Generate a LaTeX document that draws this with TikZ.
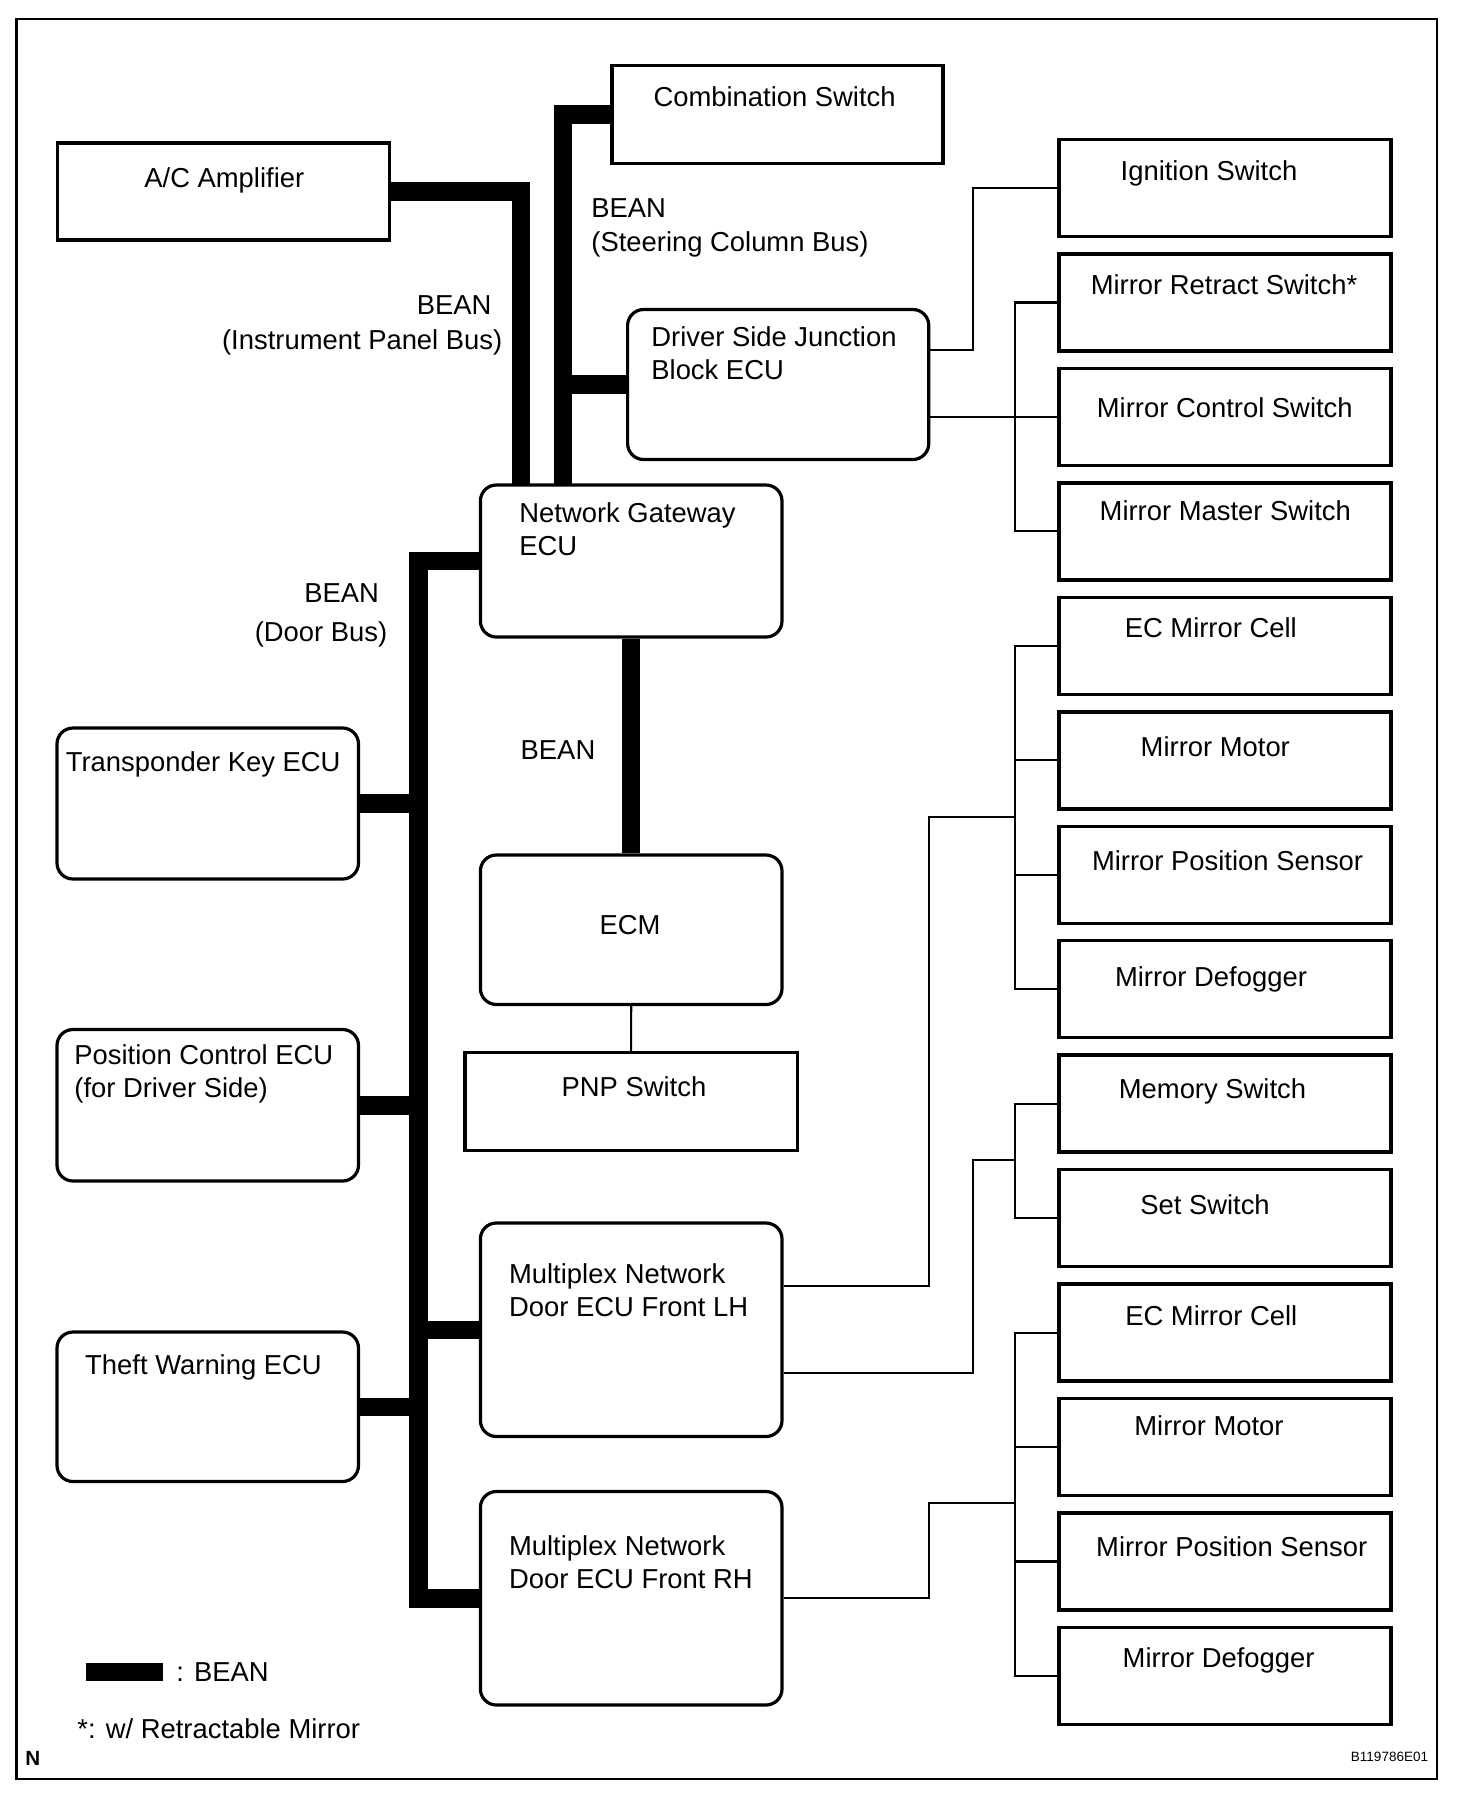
\documentclass[tikz,border=0pt]{standalone}
\usepackage{fontspec}
\setmainfont{Liberation Sans}
\newcommand{\lblfont}{\fontsize{13.7}{16.5}\selectfont}
\tikzset{
  ecubox/.style={draw, rounded corners=8pt, line width=1.6pt, minimum width=150.8pt, minimum height=75pt, inner sep=0pt},
  swbox/.style={draw, line width=1.7pt, minimum width=166pt, minimum height=48.5pt, inner sep=0pt},
  bean/.style={line width=9.25pt},
  wire/.style={line width=1.05pt},
  lbl/.style={inner sep=0pt, font=\lblfont, text height=9.8pt, text depth=0pt},
  lbltwo/.style={inner sep=0pt, font=\lblfont, align=left, anchor=base west},
}
\begin{document}
\begin{tikzpicture}[x=0.5pt, y=-0.5pt]

        \useasboundingbox (0,0) rectangle (1472,1800);
        \fill[white] (0,0) rectangle (1472,1800);
        \draw[line width=1.1pt] (16.5,19) rectangle (1437,1779);

        % Centre column
        \node[ecubox, minimum height=76pt] (ngw) at (631.2,561) {};
        \node[lbltwo] (ngw-t) at (519,555.5) {Network Gateway\\ECU};
        \node[ecubox, minimum height=74.75pt] (ecm) at (631.2,929.75) {};
        \node[lbl] (ecm-t) at (630,925) {ECM};
        \node[swbox, minimum width=166.35pt, minimum height=49pt] (pnp) at (631.15,1101.5) {};
        \node[lbl] (pnp-t) at (634,1087) {PNP Switch};
        \node[ecubox, minimum height=106.75pt] (lhdoor) at (631.2,1329.75) {};
        \node[lbltwo] (lhdoor-t) at (508.7,1316.5) {Multiplex Network\\Door ECU Front LH};
        \node[ecubox, minimum height=106.75pt] (rhdoor) at (631.2,1598.25) {};
        \node[lbltwo] (rhdoor-t) at (508.7,1588.8) {Multiplex Network\\Door ECU Front RH};

        % Top row
        \node[swbox, minimum width=165.85pt] (acamp) at (223.5,191.5) {};
        \node[lbl] (acamp-t) at (224.3,177.5) {A/C Amplifier};
        \node[swbox, minimum width=165.5pt, minimum height=49pt] (combsw) at (777.5,114.25) {};
        \node[lbl] (combsw-t) at (774.6,96.5) {Combination Switch};
        \node[ecubox, minimum width=150.6pt] (dsjb) at (778.2,384.5) {};
        \node[lbltwo] (dsjb-t) at (651,379.8) {Driver Side Junction\\Block ECU};

        % Left column
        \node[ecubox, minimum width=150.75pt, minimum height=75.5pt] (tkecu) at (207.75,803.5) {};
        \node[lbl] (tkecu-t) at (203.2,762) {Transponder Key ECU};
        \node[ecubox, minimum width=150.75pt, minimum height=75.75pt] (pcecu) at (207.75,1105.25) {};
        \node[lbltwo] (pcecu-t) at (74,1097.5) {Position Control ECU\\(for Driver Side)};
        \node[ecubox, minimum width=150.75pt, minimum height=74.75pt] (twecu) at (207.75,1406.75) {};
        \node[lbl] (twecu-t) at (203.5,1365) {Theft Warning ECU};

        % Right column
        \foreach \nm/\txt/\tx/\ty [count=\i from 0] in {
            ignsw/Ignition Switch/1209/170.8,
            retsw/Mirror Retract Switch*/1224/284.7,
            ctrlsw/Mirror Control Switch/1224.8/407.5,
            mstsw/Mirror Master Switch/1225.3/511,
            ecc1/EC Mirror Cell/1210.8/627.5,
            mmot1/Mirror Motor/1215.3/746.5,
            mpos1/Mirror Position Sensor/1227.6/860.5,
            mdef1/Mirror Defogger/1211/977,
            memsw/Memory Switch/1212.5/1089,
            setsw/Set Switch/1205/1205,
            ecc2/EC Mirror Cell/1211.3/1316,
            mmot2/Mirror Motor/1209/1426,
            mpos2/Mirror Position Sensor/1231.7/1546.5,
            mdef2/Mirror Defogger/1218.6/1657.5} {
            \node[swbox] (\nm) at (1225,{188+\i*114.46}) {};
            \node[lbl] (\nm-t) at (\tx,\ty) {\txt};
        }

        % BEAN buses
        \coordinate (ipjoint) at (521,485);
        \coordinate (scjoint) at (563,485);
        \coordinate (doorbend) at (418.6,0);
        \draw[bean] (acamp.east) -| (ipjoint);
        \draw[bean] (combsw.west) -| (scjoint);
        \draw[bean] (dsjb.west) -- (dsjb.west -| scjoint);
        \draw[bean] (ngw.west) -| (doorbend |- rhdoor.west) -- (rhdoor.west);
        \draw[bean] (tkecu.east) -- (tkecu.east -| doorbend);
        \draw[bean] (pcecu.east) -- (pcecu.east -| doorbend);
        \draw[bean] (twecu.east) -- (twecu.east -| doorbend);
        \draw[bean] (lhdoor.west) -- (lhdoor.west -| doorbend);
        \draw[bean] (ngw.south) -- (ecm.north);
        \draw[wire] (ecm.south) -- (pnp.north);

        \node[lbl] (bean-ip) at (454.2,304.5) {BEAN};
        \node[lbl] (bean-ip2) at (362.2,340) {(Instrument Panel Bus)};
        \node[lbl, anchor=west] (bean-sc) at (591,207.6) {BEAN};
        \node[lbl, anchor=west] (bean-sc2) at (591,242) {(Steering Column Bus)};
        \node[lbl] (bean-door) at (341.7,593) {BEAN};
        \node[lbl] (bean-door2) at (321,631.6) {(Door Bus)};
        \node[lbl] (bean-ecm) at (558,750) {BEAN};

        % Switch and mirror wiring
        \coordinate (sbus) at (1015,0);
        \coordinate (igbend) at (972.8,0);
        \coordinate (lhbend) at (928.8,816.7);
        \coordinate (setbend) at (972.8,1160.2);
        \coordinate (rhbend) at (928.8,1503);

        \draw[wire] ([yshift=17.25pt]dsjb.east) -| (igbend |- ignsw.west) -- (ignsw.west);
        \draw[wire] (dsjb.east |- ctrlsw.west) -- (ctrlsw.west);
        \draw[wire] (retsw.west) -- (retsw.west -| sbus) -- (mstsw.west -| sbus) -- (mstsw.west);

        \draw[wire] (ecc1.west) -- (ecc1.west -| sbus) -- (mdef1.west -| sbus) -- (mdef1.west);
        \draw[wire] (memsw.west) -- (memsw.west -| sbus) -- (setsw.west -| sbus) -- (setsw.west);
        \draw[wire] (ecc2.west) -- (ecc2.west -| sbus) -- (mdef2.west -| sbus) -- (mdef2.west);
        \foreach \nm in {mmot1,mpos1,mmot2,mpos2}
            \draw[wire] (\nm.west) -- (\nm.west -| sbus);

        \draw[wire] ([yshift=21.75pt]lhdoor.east) -| (lhbend) -- (lhbend -| sbus);
        \draw[wire] ([yshift=-21.5pt]lhdoor.east) -| (setbend) -- (setbend -| sbus);
        \draw[wire] (rhdoor.east) -| (rhbend) -- (rhbend -| sbus);

        % Legend
        \node[fill, minimum width=38.5pt, minimum height=9pt, inner sep=0pt] (legbar) at (124.5,1672) {};
        \node[lbl, anchor=west] (legbean) at (176,1672) {: BEAN};
        \node[lbl, anchor=west] (legnote) at (77,1729) {*: w/ Retractable Mirror};
        \node[inner sep=0pt, anchor=west, font=\fontsize{10.3}{12}\selectfont\bfseries] (pageN) at (25,1758) {N};
        \node[inner sep=0pt, font=\fontsize{6.75}{8}\selectfont] (figid) at (1389.5,1757) {B119786E01};

\end{tikzpicture}
\end{document}
